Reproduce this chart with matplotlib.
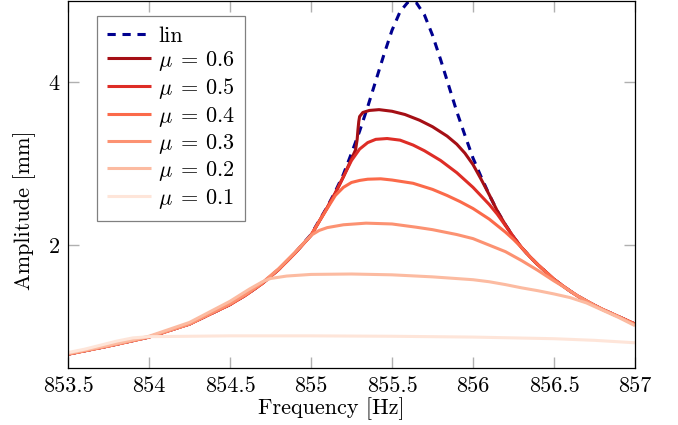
import matplotlib
matplotlib.use("Agg")
import matplotlib.pyplot as plt

plt.rcParams['font.family'] = ['cmr10', 'DejaVu Serif']
plt.rcParams['mathtext.fontset'] = 'cm'
plt.rcParams['axes.unicode_minus'] = False
plt.rcParams['axes.formatter.use_mathtext'] = True

# ---- data ----
f_lin = [853.5, 853.75, 854.0, 854.25, 854.5, 854.6, 854.7, 854.8, 854.9, 855.0,
         855.05, 855.1, 855.15, 855.2, 855.25, 855.3, 855.35, 855.4, 855.45, 855.5,
         855.55, 855.6, 855.65, 855.7, 855.75, 855.8, 855.85, 855.9, 855.95, 856.0,
         856.05, 856.1, 856.15, 856.2, 856.25, 856.3, 856.35, 856.4, 856.45, 856.5,
         856.55, 856.6, 856.65, 856.7, 856.75, 856.8, 856.9, 857.0]
a_lin = [0.66, 0.76, 0.87, 1.03, 1.27, 1.39, 1.53, 1.70, 1.90, 2.13,
         2.30, 2.47, 2.66, 2.87, 3.13, 3.40, 3.70, 4.02, 4.34, 4.64,
         4.87, 4.99, 4.98, 4.83, 4.58, 4.28, 3.96, 3.64, 3.35, 3.07,
         2.84, 2.62, 2.42, 2.25, 2.10, 1.97, 1.86, 1.76, 1.67, 1.58,
         1.505, 1.435, 1.37, 1.315, 1.26, 1.21, 1.12, 1.03]

f_mu06 = [853.5, 853.75, 854.0, 854.25, 854.5, 854.6, 854.7, 854.8, 854.9, 855.0,
          855.05, 855.1, 855.15, 855.2, 855.25, 855.275, 855.285, 855.29, 855.295, 855.30,
          855.32, 855.36, 855.42, 855.5, 855.58, 855.67, 855.75, 855.84, 855.9, 855.95,
          856.0, 856.05, 856.1, 856.15, 856.2, 856.25, 856.3, 856.35, 856.4, 856.45,
          856.5, 856.55, 856.6, 856.65, 856.7, 856.75, 856.8, 856.9, 857.0]
a_mu06 = [0.66, 0.76, 0.87, 1.03, 1.27, 1.39, 1.53, 1.70, 1.90, 2.12,
          2.29, 2.46, 2.64, 2.84, 3.06, 3.17, 3.30, 3.42, 3.52, 3.58,
          3.63, 3.655, 3.665, 3.645, 3.605, 3.535, 3.455, 3.34, 3.24, 3.13,
          2.99, 2.81, 2.62, 2.42, 2.25, 2.10, 1.97, 1.86, 1.76, 1.67,
          1.58, 1.505, 1.435, 1.37, 1.315, 1.26, 1.21, 1.12, 1.03]

f_mu05 = [853.5, 853.75, 854.0, 854.25, 854.5, 854.6, 854.7, 854.8, 854.9, 855.0,
          855.05, 855.1, 855.15, 855.2, 855.25, 855.3, 855.35, 855.4, 855.47, 855.55,
          855.63, 855.7, 855.8, 855.9, 856.0, 856.1, 856.15, 856.2, 856.25, 856.3,
          856.35, 856.4, 856.45, 856.5, 856.55, 856.6, 856.65, 856.7, 856.75, 856.8,
          856.9, 857.0]
a_mu05 = [0.66, 0.76, 0.87, 1.03, 1.27, 1.39, 1.53, 1.70, 1.90, 2.12,
          2.29, 2.46, 2.64, 2.84, 3.04, 3.18, 3.26, 3.30, 3.31, 3.29,
          3.23, 3.16, 3.04, 2.89, 2.71, 2.50, 2.38, 2.24, 2.10, 1.97,
          1.86, 1.76, 1.67, 1.58, 1.505, 1.435, 1.37, 1.315, 1.26, 1.21,
          1.12, 1.03]

f_mu04 = [853.5, 853.75, 854.0, 854.25, 854.5, 854.6, 854.7, 854.8, 854.9, 855.0,
          855.05, 855.1, 855.15, 855.2, 855.25, 855.3, 855.35, 855.43, 855.5, 855.63,
          855.75, 855.84, 855.92, 856.0, 856.1, 856.2, 856.25, 856.3, 856.35, 856.4,
          856.45, 856.5, 856.55, 856.6, 856.65, 856.7, 856.75, 856.8, 856.9, 857.0]
a_mu04 = [0.66, 0.76, 0.87, 1.03, 1.27, 1.39, 1.53, 1.70, 1.90, 2.12,
          2.29, 2.45, 2.61, 2.71, 2.77, 2.795, 2.81, 2.815, 2.80, 2.76,
          2.685, 2.61, 2.535, 2.45, 2.32, 2.16, 2.07, 1.97, 1.86, 1.76,
          1.67, 1.58, 1.505, 1.435, 1.37, 1.315, 1.26, 1.21, 1.12, 1.03]

f_mu03 = [853.5, 853.75, 854.0, 854.25, 854.5, 854.6, 854.7, 854.8, 854.9, 855.0,
          855.05, 855.1, 855.2, 855.34, 855.5, 855.65, 855.75, 855.9, 856.0, 856.1,
          856.2, 856.3, 856.4, 856.45, 856.5, 856.55, 856.6, 856.65, 856.7, 856.75,
          856.8, 856.9, 857.0]
a_mu03 = [0.66, 0.76, 0.87, 1.03, 1.28, 1.40, 1.54, 1.71, 1.91, 2.12,
          2.18, 2.215, 2.25, 2.27, 2.26, 2.22, 2.19, 2.13, 2.08, 2.00,
          1.92, 1.81, 1.69, 1.625, 1.56, 1.50, 1.435, 1.37, 1.315, 1.26,
          1.21, 1.12, 1.02]

f_mu02 = [853.5, 853.75, 854.0, 854.25, 854.5, 854.62, 854.7, 854.75, 854.85, 855.0,
          855.25, 855.5, 855.75, 856.0, 856.1, 856.2, 856.3, 856.4, 856.5, 856.6,
          856.7, 856.8, 856.9, 857.0]
a_mu02 = [0.67, 0.77, 0.88, 1.05, 1.31, 1.46, 1.55, 1.59, 1.62, 1.64,
          1.645, 1.635, 1.61, 1.575, 1.55, 1.515, 1.475, 1.44, 1.40, 1.355,
          1.29, 1.20, 1.11, 1.01]

f_mu01 = [853.5, 853.6, 853.7, 853.8, 853.9, 854.0, 854.25, 854.5, 855.0, 855.5,
          856.0, 856.5, 856.75, 857.0]
a_mu01 = [0.68, 0.72, 0.77, 0.82, 0.86, 0.875, 0.88, 0.885, 0.885, 0.88,
          0.87, 0.85, 0.83, 0.80]

series = [
    (f_mu06, a_mu06, r'$\mu\;{=}\,0.6$', '#a50f15'),
    (f_mu05, a_mu05, r'$\mu\;{=}\,0.5$', '#de2d26'),
    (f_mu04, a_mu04, r'$\mu\;{=}\,0.4$', '#fb6a4a'),
    (f_mu03, a_mu03, r'$\mu\;{=}\,0.3$', '#fc9272'),
    (f_mu02, a_mu02, r'$\mu\;{=}\,0.2$', '#fcbba1'),
    (f_mu01, a_mu01, r'$\mu\;{=}\,0.1$', '#fee5d9'),
]

xticks = [853.5, 854, 854.5, 855, 855.5, 856, 856.5, 857]
xticklabels = ['853.5', '854', '854.5', '855', '855.5', '856', '856.5', '857']
yticks = [2, 4]
yticklabels = ['2', '4']

fig = plt.figure(figsize=(6.78, 4.25), dpi=100)
ax = fig.add_axes([68 / 678, 1 - 368 / 425, 567 / 678, 367 / 425])

lw = 2.2
ax.plot(f_lin, a_lin, color='#00008f', lw=lw, dashes=(2.7, 2.2), label='lin')
for f, a, lab, c in series:
    ax.plot(f, a, color=c, lw=lw, label=lab, solid_capstyle='butt',
            solid_joinstyle='round')

ax.set_xlim(853.5, 857)
ax.set_ylim(0.49, 5.0)
ax.set_xticks(xticks)
ax.set_xticklabels(xticklabels)
ax.set_yticks(yticks)
ax.set_yticklabels(yticklabels)

ax.tick_params(direction='in', length=8, width=1.0, color='#b0b0b0',
               top=True, right=True, labelsize=16)
ax.tick_params(axis='x', pad=6)
ax.tick_params(axis='y', pad=6)
for s in ax.spines.values():
    s.set_linewidth(0.9)
    s.set_color('black')

ax.set_xlabel('Frequency [Hz]', fontsize=16)
ax.set_ylabel('Amplitude [mm]', fontsize=16)
ax.xaxis.set_label_coords(0.464, -0.08)
ax.yaxis.set_label_coords(-0.056, 0.429)

leg = ax.legend(loc='upper left', bbox_to_anchor=(29 / 567, 1 - 15 / 367),
                borderaxespad=0, fontsize=16, handlelength=2.0,
                handletextpad=0.3, borderpad=0.45, labelspacing=0.15,
                fancybox=False, framealpha=1, edgecolor='#808080')
leg.get_frame().set_linewidth(0.9)

fig.savefig('out.png', dpi=100)
